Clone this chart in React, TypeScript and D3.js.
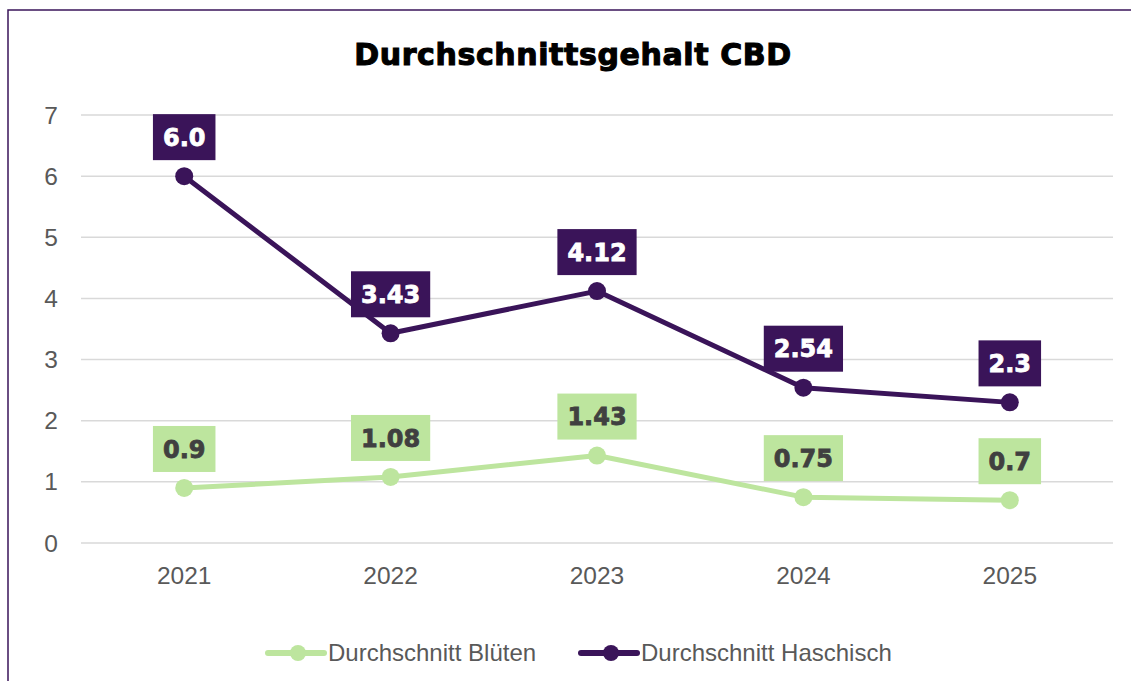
import * as React from 'react';
import * as d3 from 'd3';

const years = ['2021', '2022', '2023', '2024', '2025'];
const blueten = [0.9, 1.08, 1.43, 0.75, 0.7];
const haschisch = [6.0, 3.43, 4.12, 2.54, 2.3];
const bluetenLabels = ['0.9', '1.08', '1.43', '0.75', '0.7'];
const haschischLabels = ['6.0', '3.43', '4.12', '2.54', '2.3'];
const yTicks = [0, 1, 2, 3, 4, 5, 6, 7];

const GREEN = '#bde59e';
const PURPLE = '#3a1459';
const GRAY = '#595959';
const FONT = '"Liberation Sans", Arial, sans-serif';
const HEAVY = '"DejaVu Sans", sans-serif';

// rough text width for the heavy label font
function labelWidth(s: string, size: number) {
  let w = 0;
  for (const c of s) w += c === '.' ? 0.38 : 0.696;
  return w * size;
}

export default function App() {
  const width = 1131;
  const height = 681;
  const left = 81;
  const right = 1113;
  const top = 115;
  const bottom = 543;

  const x = d3.scaleBand().domain(years).range([left, right]);
  const y = d3.scaleLinear().domain([0, 7]).range([bottom, top]);
  const cx = (d: string) => (x(d) as number) + x.bandwidth() / 2;

  const line = d3.line<number>()
    .x((_, i) => cx(years[i]))
    .y(d => y(d));

  const series = [
    {name: 'Durchschnitt Blüten', values: blueten, labels: bluetenLabels, color: GREEN, text: '#404040'},
    {name: 'Durchschnitt Haschisch', values: haschisch, labels: haschischLabels, color: PURPLE, text: '#ffffff'},
  ];

  const labelSize = 24;

  return (
    <svg width={width} height={height} style={{position: 'absolute', left: 0, top: 0}}>
      <rect x={0} y={0} width={width} height={height} fill="#fff" />
      <rect x={8} y={10} width={1200} height={800} fill="none" stroke={PURPLE} strokeWidth={1.5} />
      <text x={573} y={65} textAnchor="middle" fontFamily={HEAVY} fontWeight="bold" fontSize={30}
        letterSpacing={0.6} fill="#000" stroke="#000" strokeWidth={1.1}>
        Durchschnittsgehalt CBD
      </text>

      {yTicks.map(t => (
        <g key={t}>
          <line x1={left} x2={right} y1={y(t)} y2={y(t)} stroke="#d9d9d9" strokeWidth={1.5} />
          <text x={58} y={y(t)} dy="0.35em" textAnchor="end" fontFamily={FONT} fontSize={24.5} fill={GRAY}>{t}</text>
        </g>
      ))}
      {years.map(yr => (
        <text key={yr} x={cx(yr)} y={584} textAnchor="middle" fontFamily={FONT} fontSize={24.5} fill={GRAY}>{yr}</text>
      ))}

      {series.map(s => (
        <g key={s.name}>
          <path d={line(s.values) || ''} fill="none" stroke={s.color} strokeWidth={5} strokeLinejoin="round" />
          {s.values.map((v, i) => (
            <circle key={i} cx={cx(years[i])} cy={y(v)} r={9} fill={s.color} />
          ))}
          {s.values.map((v, i) => {
            const w = labelWidth(s.labels[i], labelSize) + 20;
            const cy = y(v) - 39;
            return (
              <g key={'l' + i}>
                <rect x={cx(years[i]) - w / 2} y={cy - 23} width={w} height={46} fill={s.color} />
                <text x={cx(years[i])} y={cy} dy="0.36em" textAnchor="middle" fontFamily={HEAVY}
                  fontWeight="bold" fontSize={labelSize} fill={s.text} stroke={s.text} strokeWidth={0.8}>
                  {s.labels[i]}
                </text>
              </g>
            );
          })}
        </g>
      ))}

      {/* legend */}
      {series.map((s, i) => {
        const lx = i === 0 ? 268 : 581;
        return (
          <g key={s.name} transform={`translate(${lx},653)`}>
            <line x1={0} x2={56} y1={0} y2={0} stroke={s.color} strokeWidth={6} strokeLinecap="round" />
            <circle cx={30} cy={0} r={8} fill={s.color} />
            <text x={60} y={0} dy="0.35em" fontFamily={FONT} fontSize={24} fill={GRAY}>{s.name}</text>
          </g>
        );
      })}
    </svg>
  );
}
